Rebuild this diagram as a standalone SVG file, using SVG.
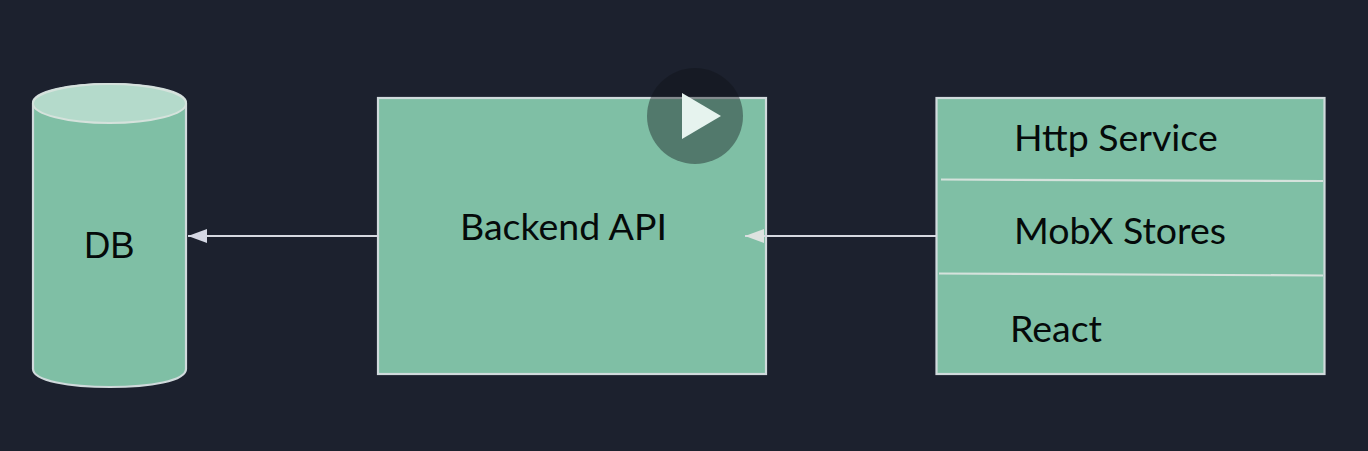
<svg xmlns="http://www.w3.org/2000/svg" width="1368" height="451" viewBox="0 0 1368 451">
<style>
.n{fill:#7fbfa5;stroke:#d0dadc;stroke-width:2.200}
.l{font-family:Lato,"Liberation Sans",sans-serif;font-size:37.500px;fill:#050a0a}
.c{stroke:#d5d8e0;stroke-width:2;fill:none}
.s{stroke:#d5e2dc;stroke-width:2.200;fill:none}
</style>
<defs>
<marker id="a" markerUnits="userSpaceOnUse" markerWidth="20" markerHeight="16" refX="19" refY="7" orient="auto"><path d="M19 7L0 0V14Z" fill="#d5d8e4"/></marker>
<marker id="b" markerUnits="userSpaceOnUse" markerWidth="20" markerHeight="16" refX="19" refY="7" orient="auto"><path d="M19 7L0 0V14Z" fill="#dde3e0"/></marker>
</defs>
<rect width="1368" height="451" fill="#1c212e"/>
<g id="db">
<path class="n" d="M33 103C33 91 70 84 110 84S186 91 186 103V369C186 381 150 387 110 387S33 381 33 369Z"/>
<ellipse cx="109.500" cy="103.500" rx="76.500" ry="19.500" fill="#b4dacb" stroke="#d5e2dc" stroke-width="2"/>
<text x="84" y="258" font-family="'Liberation Sans',Arial,sans-serif" font-size="36.500" fill="#050a0a">DB</text>
</g>
<g id="backend">
<rect class="n" x="378" y="98" width="388" height="276"/>
<text class="l" x="460" y="240">Backend API</text>
</g>
<g id="frontend">
<rect class="n" x="936.500" y="98" width="388" height="276"/>
<path class="s" d="M941 179.500L1323 181M939 273.500L1323 275.500"/>
<text class="l" x="1014" y="151">Http Service</text>
<text class="l" x="1014" y="244">MobX Stores</text>
<text class="l" x="1010" y="342">React</text>
</g>
<g id="connectors">
<line class="c" x1="378" y1="236" x2="188" y2="236" marker-end="url(#a)"/>
<line class="c" x1="936" y1="236" x2="745" y2="236" marker-end="url(#b)"/>
</g>
<g id="play">
<circle cx="695" cy="116" r="48" fill="#0e1216" fill-opacity=".4"/>
<path d="M682 93L721 116L682 139Z" fill="#e6f3ee"/>
</g>
</svg>
